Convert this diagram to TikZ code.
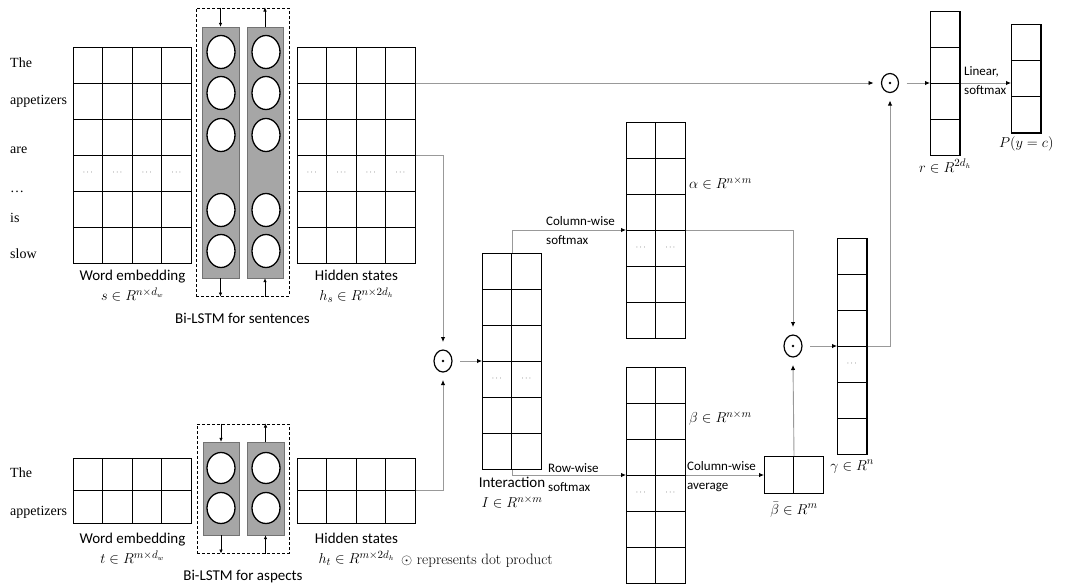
\documentclass[tikz,border=0pt]{standalone}
\usepackage{fontspec}
\setsansfont{Carlito}
\newfontfamily\wordfont{Liberation Serif}
\usetikzlibrary{arrows.meta,positioning,shapes.geometric}
% matrix of cells: name, top-left, cols, rows, cell height, row with dots (0 = none)
\newcommand{\cells}[6]{%
  \node[mat, anchor=north west, minimum width=#3*29.5pt, minimum height=#4*#5pt] (#1) at (#2) {};
  \foreach \k in {1,...,#3}
    \draw[cellline] ([xshift=\k*29.5pt]#1.north west) -- ([xshift=\k*29.5pt]#1.south west);
  \foreach \k in {1,...,#4}
    \draw[cellline] ([yshift=-\k*#5pt]#1.north west) -- ([yshift=-\k*#5pt]#1.north east);
  \ifnum#6>0
    \foreach \k in {1,...,#3}
      \node[celldots] (#1d\k) at ([xshift=\k*29.5pt-14.75pt, yshift=-#6*#5pt+#5pt/2]#1.north west) {$\cdots$};
  \fi
}

\begin{document}
\begin{tikzpicture}[x=1pt, y=-1pt,
  mat/.style={draw, line width=1pt, inner sep=0pt},
  cellline/.style={line width=1pt},
  celldots/.style={font=\fontsize{8}{8}\selectfont, text=black!85, inner sep=0pt},
  word/.style={font=\wordfont\fontsize{14}{14}\selectfont, anchor=base west, inner sep=0pt},
  lbl/.style={font=\sffamily\fontsize{15}{20}\selectfont, align=center, inner sep=1pt},
  mlbl/.style={font=\fontsize{15}{20}\selectfont, inner sep=1pt},
  note/.style={font=\sffamily\fontsize{13}{19}\selectfont, align=left, inner sep=1pt, anchor=west},
  dashbox/.style={draw, densely dashed, line width=1pt, inner sep=0pt},
  lstm/.style={draw=black!55, fill=black!35, minimum width=36.5pt, inner sep=0pt},
  unit/.style={ellipse, draw, line width=1.3pt, fill=white, minimum width=28pt, minimum height=33pt, inner sep=0pt},
  prod/.style={ellipse, draw, line width=1.2pt, minimum width=18pt, minimum height=22pt, inner sep=0pt, outer sep=8pt,
               path picture={\fill (path picture bounding box.center) circle (1.3pt);}},
  link/.style={draw=black!40, line width=0.9pt, -{Latex[length=5pt,width=4.5pt,color=black]}},
  tip/.style={line width=0.6pt, -{Latex[length=4pt,width=3.5pt]}}
]
\useasboundingbox (0,0) rectangle (1065,587);

% sentence branch
\foreach \w/\y [count=\i] in {The/67, appetizers/104, are/153, \ldots/192, is/222, slow/258}
  \node[word] (sw\i) at (10,\y) {\w};
\cells{we}{73,47}{4}{6}{36}{4}
\node[dashbox, minimum width=93pt, minimum height=288pt] (bs) at (242.5,152) {};
\node[lstm, minimum height=251pt] (sf) at (220.5,152.5) {};
\node[lstm, minimum height=251pt] (sb) at (265,152.5) {};
\foreach \y [count=\i] in {52,93,135,210,251} {
  \node[unit] (sf\i) at (221,\y) {};
  \node[unit] (sb\i) at (266,\y) {};
}
\draw[tip] (sf.north |- bs.north) -- (sf.north);
\draw[tip] (sf.south) -- (sf.south |- bs.south);
\draw[tip] (sb.north) -- (sb.north |- bs.north);
\draw[tip] (sb.south |- bs.south) -- (sb.south);
\cells{hs}{297,47}{4}{6}{36}{4}
\node[lbl, below=5pt of we] (wel) {Word embedding\\$s\in R^{n\times d_w}$};
\node[lbl, below=5pt of hs] (hsl) {Hidden states\\$h_s\in R^{n\times 2d_h}$};
\node[lbl, below=15pt of bs] (bsl) {Bi-LSTM for sentences};

% aspect branch
\node[word] (tw1) at (10,477) {The};
\node[word] (tw2) at (10,515) {appetizers};
\cells{wt}{73,458}{4}{2}{32.5}{0}
\node[dashbox, minimum width=92pt, minimum height=129pt] (bt) at (243,488.5) {};
\node[lstm, minimum height=93pt] (tf) at (221,488.5) {};
\node[lstm, minimum height=93pt] (tb) at (265.5,488.5) {};
\foreach \y [count=\i] in {468,508} {
  \node[unit, minimum height=31pt] (tf\i) at (221,\y) {};
  \node[unit, minimum height=31pt] (tb\i) at (266,\y) {};
}
\draw[tip] (tf.north |- bt.north) -- (tf.north);
\draw[tip] (tf.south) -- (tf.south |- bt.south);
\draw[tip] (tb.north) -- (tb.north |- bt.north);
\draw[tip] (tb.south |- bt.south) -- (tb.south);
\cells{ht}{297,458}{4}{2}{32.5}{0}
\node[lbl, below=8pt of wt] (wtl) {Word embedding\\$t\in R^{m\times d_w}$};
\node[lbl, below=8pt of ht] (htl) {Hidden states\\$h_t\in R^{m\times 2d_h}$};
\node[lbl, below=15pt of bt] (btl) {Bi-LSTM for aspects};
\node[mlbl, anchor=west] (key) at (400,561) {$\odot$ represents dot product};

% interaction and attention
\node[prod] (prodI) at (443,361) {};
\cells{int}{482,253}{2}{6}{36}{4}
\node[lbl, below=6pt of int] (intl) {Interaction\\$I\in R^{n\times m}$};
\cells{al}{626,122}{2}{6}{36}{4}
\node[mlbl, anchor=west] (all) at (688,183) {$\alpha\in R^{n\times m}$};
\cells{be}{626,367}{2}{6}{36}{4}
\node[mlbl, anchor=west] (bel) at (688,418) {$\beta\in R^{n\times m}$};
\cells{bb}{764,456}{2}{1}{37}{0}
\node[mlbl, below=7pt of bb] (bbl) {$\bar\beta\in R^{m}$};
\node[prod] (prodG) at (793,346) {};
\cells{ga}{837,238}{1}{6}{36}{4}
\node[mlbl, below=4pt of ga] (gal) {$\gamma\in R^{n}$};
\node[prod, minimum width=17pt, minimum height=19pt] (prodR) at (890,83) {};
\cells{r}{930,11}{1}{4}{36}{0}
\node[mlbl, below=2pt of r] (rl) {$r\in R^{2d_h}$};
\cells{p}{1011,24}{1}{3}{36.3}{0}
\node[mlbl, below=2pt of p] (pl) {$P(y=c)$};

\node[note] (cws) at (545,231) {Column-wise\\softmax};
\node[note] (rws) at (547,478) {Row-wise\\softmax};
\node[note] (cwa) at (686,477) {Column-wise\\average};
\node[note] (lin) at (963,81) {Linear,\\softmax};

% connectors
\coordinate (hs1) at ([yshift=-36pt]hs.north east);
\coordinate (hs3) at ([yshift=-108pt]hs.north east);
\coordinate (ht1) at ([yshift=-32.5pt]ht.north east);
\coordinate (int3) at ([yshift=-108pt]int.north west);
\coordinate (alL) at ([yshift=-108pt]al.north west);
\coordinate (alR) at ([yshift=-108pt]al.north east);
\coordinate (beL) at ([yshift=-108pt]be.north west);
\coordinate (beR) at ([yshift=-108pt]be.north east);
\coordinate (gaL) at ([yshift=-108pt]ga.north west);
\coordinate (gaR) at ([yshift=-108pt]ga.north east);
\coordinate (rL) at ([yshift=-72pt]r.north west);
\coordinate (rR) at ([yshift=-72pt]r.north east);
\draw[link] (hs3) -| (prodI.north);
\draw[link] (ht1) -| (prodI.south);
\draw[link] (prodI.east) -- (int3);
\draw[link] (int.north) |- (alL);
\draw[link] (int.south) |- (beL);
\draw[link] (alR) -| (prodG.north);
\draw[link] (beR) -- (beR -| bb.west);
\draw[link] (bb.north) -- (prodG.south);
\draw[link] (prodG.east) -- (gaL);
\draw[link] (gaR) -| (prodR.south);
\draw[link] (hs1) -- (hs1 -| prodR.west);
\draw[link] (prodR.east) -- (rL);
\draw[link] (rR) -- (rR -| p.west);
\end{tikzpicture}
\end{document}
